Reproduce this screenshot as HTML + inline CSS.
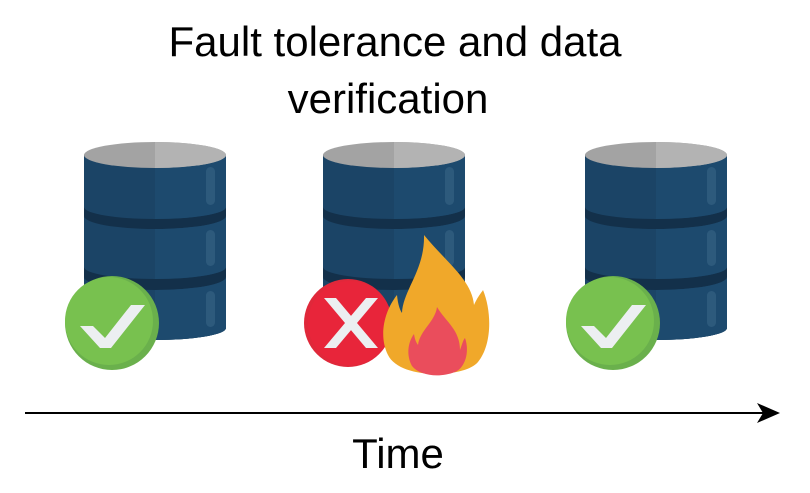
<!DOCTYPE html>
<html><head><meta charset="utf-8"><style>
html,body{margin:0;padding:0;background:#fff;}
svg{display:block;}
text{font-family:"Liberation Sans",sans-serif;}
</style></head><body>
<svg width="810" height="493" viewBox="0 0 810 493" xmlns="http://www.w3.org/2000/svg">
<defs>
<g id="db">
  <path d="M0,155 L0,328 A71,12 0 0 0 142,328 L142,155 Z" fill="#13304a"/>
  <!-- seg1 -->
  <path d="M0,155 L0,207 A71,12 0 0 0 142,207 L142,155 Z" fill="#1b4466"/>
  <path d="M71,155 L71,219 A71,12 0 0 0 142,207 L142,155 Z" fill="#1d4a6e"/>
  <!-- seg2 -->
  <path d="M0,216 A71,13 0 0 0 142,216 L142,267 A71,12 0 0 1 0,267 Z" fill="#1b4466"/>
  <path d="M71,229 A71,13 0 0 0 142,216 L142,267 A71,12 0 0 1 71,279 Z" fill="#1d4a6e"/>
  <!-- seg3 -->
  <path d="M0,277 A71,13 0 0 0 142,277 L142,328 A71,12 0 0 1 0,328 Z" fill="#1b4466"/>
  <path d="M71,290 A71,13 0 0 0 142,277 L142,328 A71,12 0 0 1 71,340 Z" fill="#1d4a6e"/>
  <!-- highlights -->
  <rect x="122" y="167" width="9" height="38" rx="4.5" fill="#2d5a7c"/>
  <rect x="122" y="230" width="9" height="36" rx="4.5" fill="#2d5a7c"/>
  <rect x="122" y="291" width="9" height="36" rx="4.5" fill="#2d5a7c"/>
  <!-- top -->
  <ellipse cx="71" cy="155" rx="71" ry="13" fill="#a3a3a3"/>
  <path d="M71,142 A71,13 0 0 1 71,168 Z" fill="#b3b3b3"/>
</g>
<g id="check">
  <circle r="47" fill="#6ab04c"/>
  <circle r="44" cx="-3" cy="-2" fill="#78c14f"/>
  <polygon points="-32,3 -19,3 -7,15 19,-18 33,-18 -1,25 -12,25" fill="#eceff1"/>
</g>
</defs>

<text x="395" y="56" font-size="42" text-anchor="middle" fill="#000">Fault tolerance and data</text>
<text x="388" y="113" font-size="42" text-anchor="middle" fill="#000">verification</text>

<use href="#db" transform="translate(84,0)"/>
<use href="#db" transform="translate(323,0)"/>
<use href="#db" transform="translate(585,0)"/>

<use href="#check" transform="translate(112,323)"/>
<use href="#check" transform="translate(613,323)"/>

<!-- X circle -->
<g transform="translate(348,323)">
  <circle r="44" fill="#e0283a"/>
  <circle r="42" cx="2" fill="#e8253a"/>
  <g transform="translate(3,0)">
    <polygon points="-27,-25 -15,-25 27,25 15,25" fill="#eceff1"/>
    <polygon points="15,-25 27,-25 -15,25 -27,25" fill="#eceff1"/>
  </g>
</g>

<!-- fire -->
<path d="M424,235 C446,262 472,280 474,305 C478,296 482,292 483,290 C492,312 492,345 478,362 C465,378 400,380 388,355 C378,335 385,310 397,295 C398,305 400,310 402,313 C403,290 425,270 424,235 Z" fill="#f0a82a"/>
<path d="M437,307 C446,322 460,330 460,350 C462,345 463,340 465,338 C470,352 465,368 455,372 C440,378 420,376 412,366 C406,355 408,342 414,334 C415,340 416,342 418,345 C420,330 435,322 437,307 Z" fill="#ea4d5c"/>

<!-- arrow -->
<line x1="25" y1="413" x2="765" y2="413" stroke="#000" stroke-width="2"/>
<polygon points="780,413 757,403 763,413 757,423" fill="#000"/>

<text x="398" y="468" font-size="42" text-anchor="middle" fill="#000">Time</text>
</svg>
</body></html>
